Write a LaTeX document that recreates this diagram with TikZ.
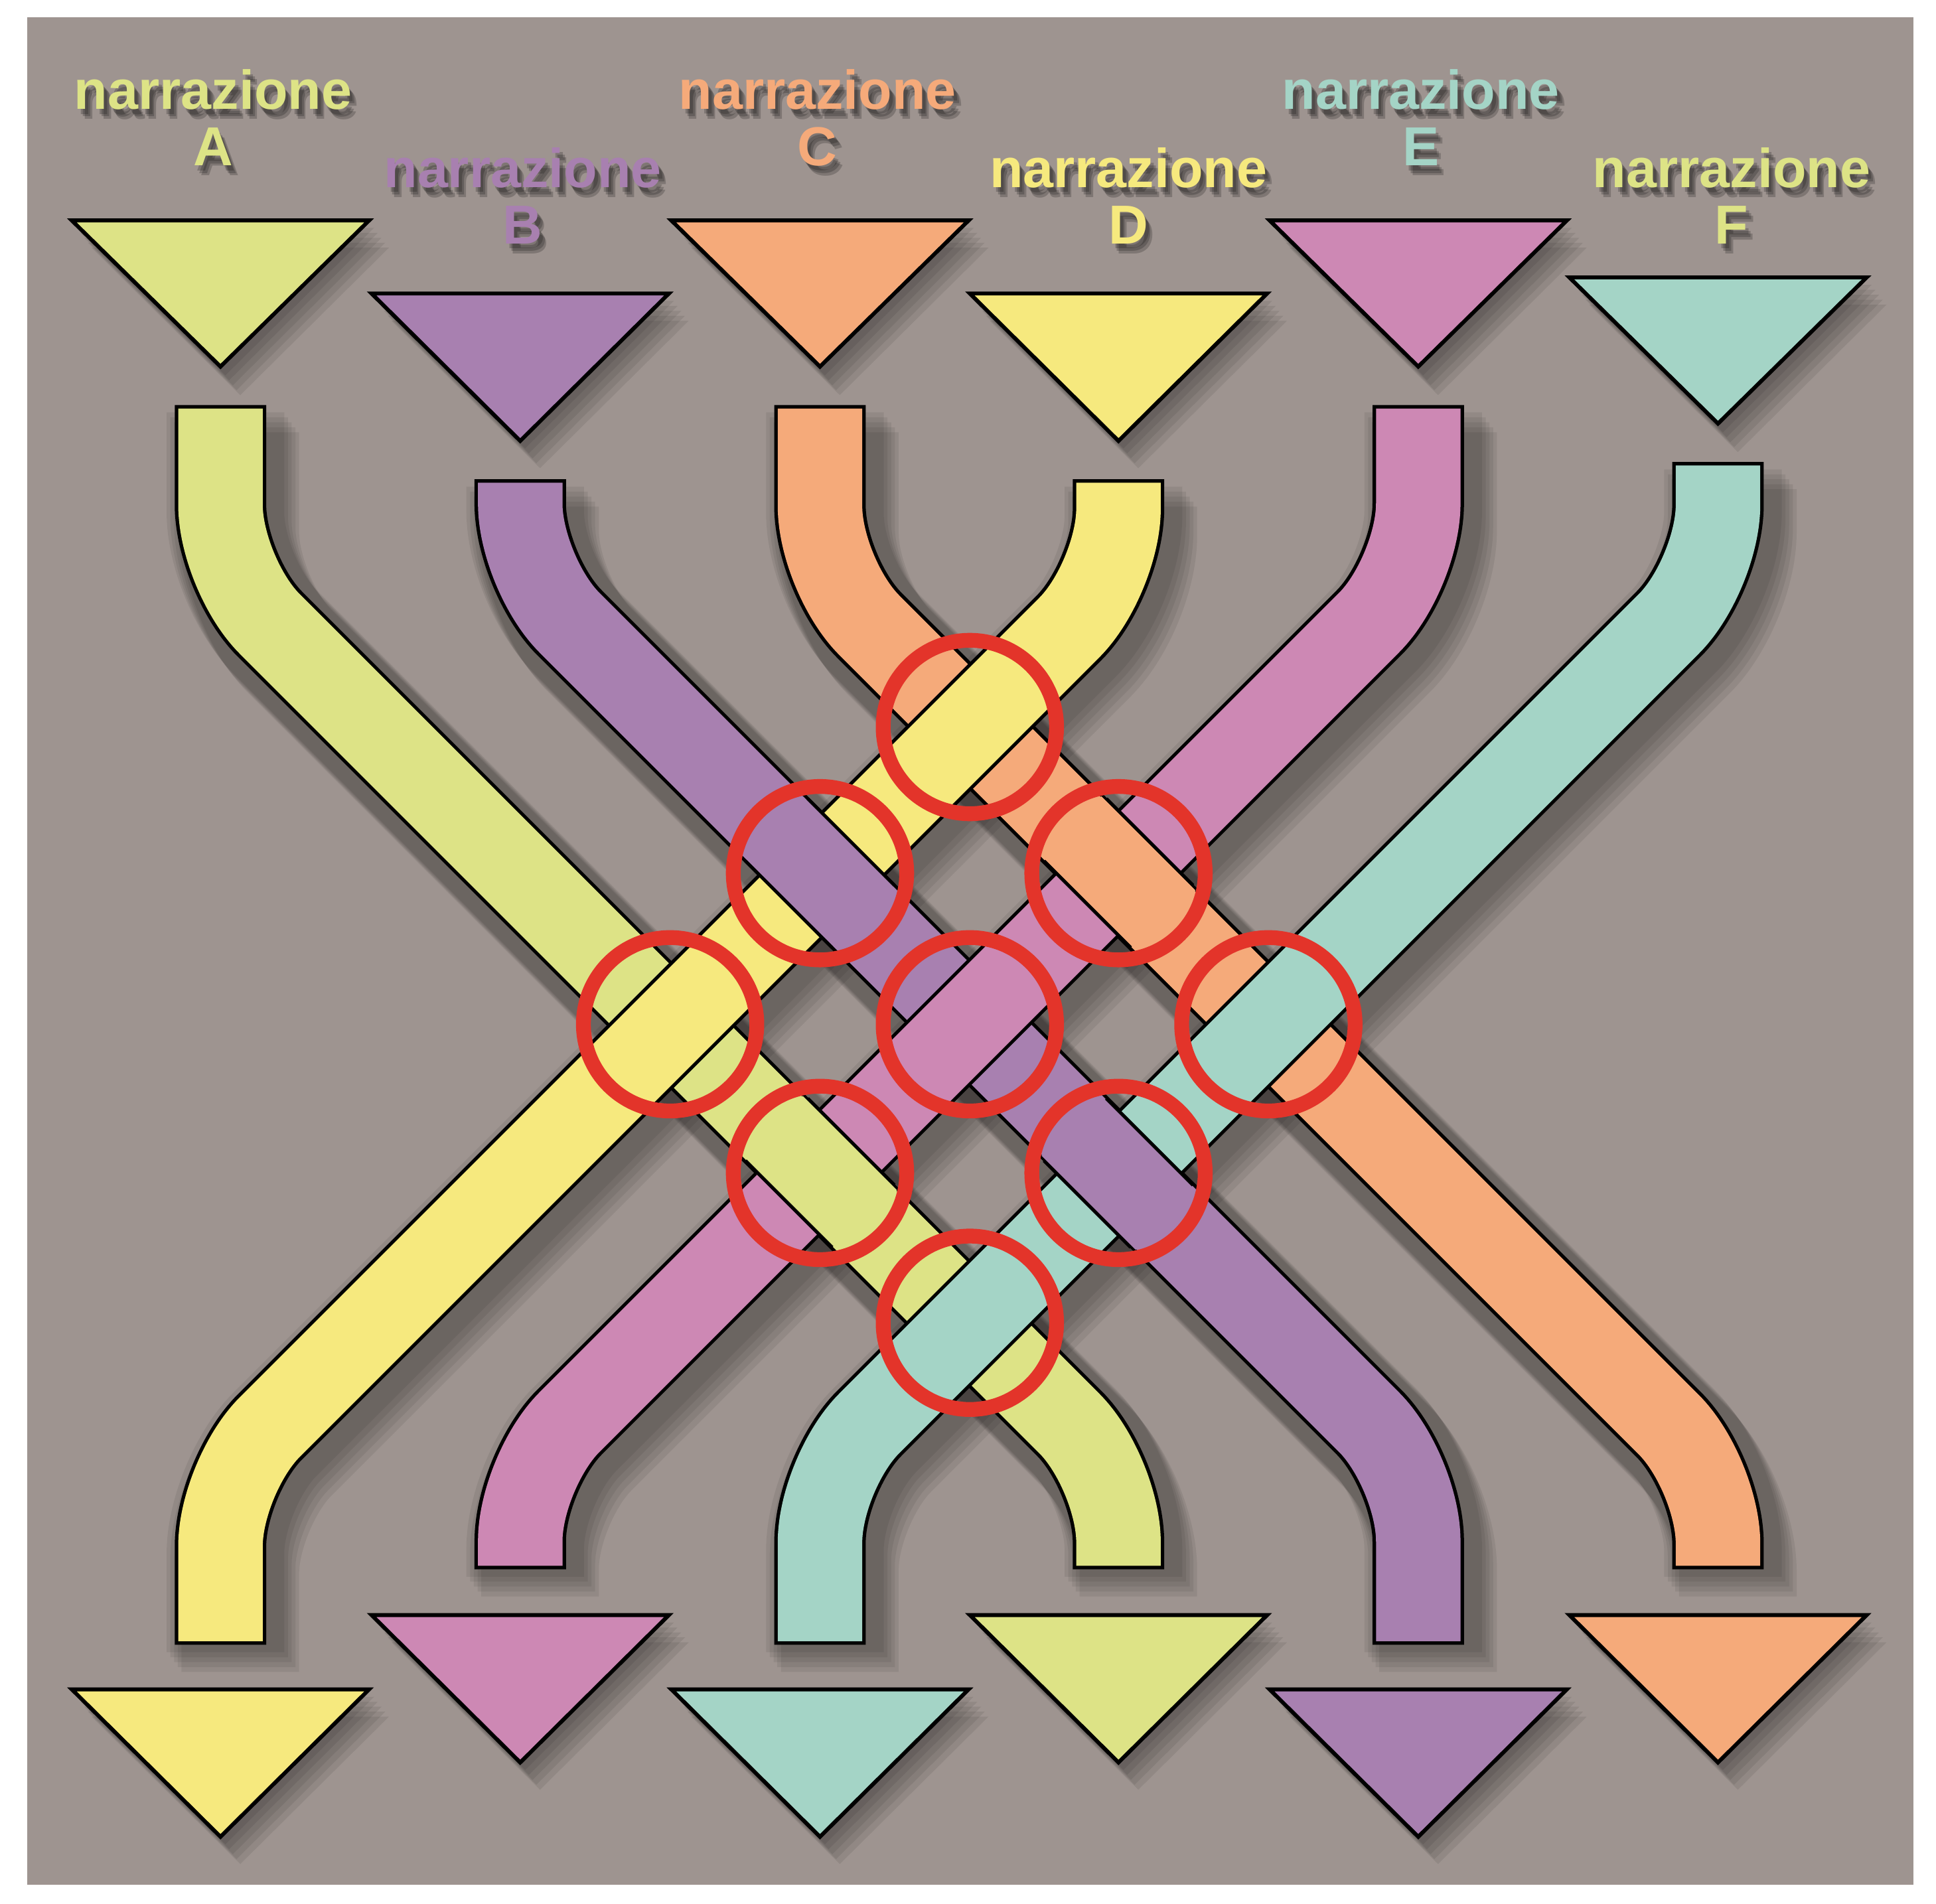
\documentclass[tikz,border=0pt]{standalone}
\usepackage{fontspec}
\setmainfont{Liberation Sans}
\begin{document}
\definecolor{bg}{HTML}{9E9490}
\definecolor{cA}{HTML}{DDE386}
\definecolor{cB}{HTML}{A880B0}
\definecolor{cC}{HTML}{F5AA7A}
\definecolor{cD}{HTML}{F6E97E}
\definecolor{cE}{HTML}{CD88B4}
\definecolor{cF}{HTML}{A4D4C6}
\definecolor{ring}{HTML}{E3342A}
\begin{tikzpicture}[x=0.01cm,y=-0.01cm,
  bshadow/.style={line width=27pt,black,opacity=0.07,rounded corners=16pt},
  bout/.style={line width=21pt,black,rounded corners=16pt},
  bin/.style={line width=19.4pt,rounded corners=16pt,shorten <=0.8pt,shorten >=0.8pt},
  tri/.style={draw=black,line width=0.9pt},
  trishadow/.style={fill=black,opacity=0.08},
  lab/.style={font=\bfseries\fontsize{12.6}{13}\selectfont,align=center,inner sep=0pt},
  circ/.style={draw=ring,line width=3.4pt}]
\useasboundingbox (0,0) rectangle (1563,1537);
\fill[bg] (22,14) rectangle (1545,1522);
% paths
\def\pA{(178,327) -- (178,464) -- (903,1189) -- (903,1267)}
\def\pB{(420,387) -- (420,463) -- (1145,1188) -- (1145,1328)}
\def\pC{(662,327) -- (662,465) -- (1387,1190) -- (1387,1267)}
\def\pD{(903,387) -- (903,467) -- (178,1192) -- (178,1328)}
\def\pE{(1145,327) -- (1145,463) -- (420,1188) -- (420,1267)}
\def\pF{(1387,373) -- (1387,464) -- (662,1189) -- (662,1328)}
% soft shadows
\foreach \s in {0,1,2,3,4}{
\begin{scope}[shift={(4+3*\s,6+4*\s)}]
\draw[bshadow] \pA; \draw[bshadow] \pB; \draw[bshadow] \pC;
\draw[bshadow] \pD; \draw[bshadow] \pE; \draw[bshadow] \pF;
\foreach \x/\t in {178/178,420/237,662/178,903/237,1145/178,1387/224}
  \fill[trishadow] (\x-120,\t) -- (\x+120,\t) -- (\x,\t+119) -- cycle;
\foreach \x/\t in {178/1364,420/1304,662/1364,903/1304,1145/1364,1387/1304}
  \fill[trishadow] (\x-120,\t) -- (\x+120,\t) -- (\x,\t+119) -- cycle;
\end{scope}}
% triangles top
\draw[tri,fill=cA] (58,178) -- (298,178) -- (178,296) -- cycle;
\draw[tri,fill=cB] (300,237) -- (540,237) -- (420,356) -- cycle;
\draw[tri,fill=cC] (542,178) -- (782,178) -- (662,296) -- cycle;
\draw[tri,fill=cD] (783,237) -- (1023,237) -- (903,356) -- cycle;
\draw[tri,fill=cE] (1025,178) -- (1265,178) -- (1145,296) -- cycle;
\draw[tri,fill=cF] (1267,224) -- (1507,224) -- (1387,342) -- cycle;
% triangles bottom
\draw[tri,fill=cD] (58,1364) -- (298,1364) -- (178,1483) -- cycle;
\draw[tri,fill=cE] (300,1304) -- (540,1304) -- (420,1423) -- cycle;
\draw[tri,fill=cF] (542,1364) -- (782,1364) -- (662,1483) -- cycle;
\draw[tri,fill=cA] (783,1304) -- (1023,1304) -- (903,1423) -- cycle;
\draw[tri,fill=cB] (1025,1364) -- (1265,1364) -- (1145,1483) -- cycle;
\draw[tri,fill=cC] (1267,1304) -- (1507,1304) -- (1387,1423) -- cycle;
% bands
\draw[bout] \pA; \draw[bin,cA] \pA;
\draw[bout] \pB; \draw[bin,cB] \pB;
\draw[bout] \pC; \draw[bin,cC] \pC;
\draw[bout] \pD; \draw[bin,cD] \pD;
\draw[bout] \pE; \draw[bin,cE] \pE;
\draw[bout] \pF; \draw[bin,cF] \pF;
% over-crossing fixes
\foreach \x/\y/\c in {662/705/cB,903/705/cC,662/947/cA,903/947/cB}{
  \draw[line width=21pt,black] (\x-35,\y-35) -- (\x+35,\y+35);
  \draw[line width=19.4pt,\c] (\x-38,\y-38) -- (\x+38,\y+38);
}
% rings
\foreach \x/\y in {783/587,662/705,903/705,541/827,783/827,1024/827,662/947,903/947,783/1068}
  \draw[circ] (\x,\y) circle (70);
% labels
\foreach \x/\y/\l/\c in {172/95/A/cA,422/158/B/cB,660/95/C/cC,911/158/D/cD,1147/95/E/cF,1398/158/F/cA}{
  \foreach \s in {1,2,3}
    \node[lab,text=black,opacity=0.2] at (\x+1+1.5*\s,\y+2+2*\s) {narrazione\\\l};
  \node[lab,text=\c] at (\x,\y) {narrazione\\\l};
}
\end{tikzpicture}
\end{document}
